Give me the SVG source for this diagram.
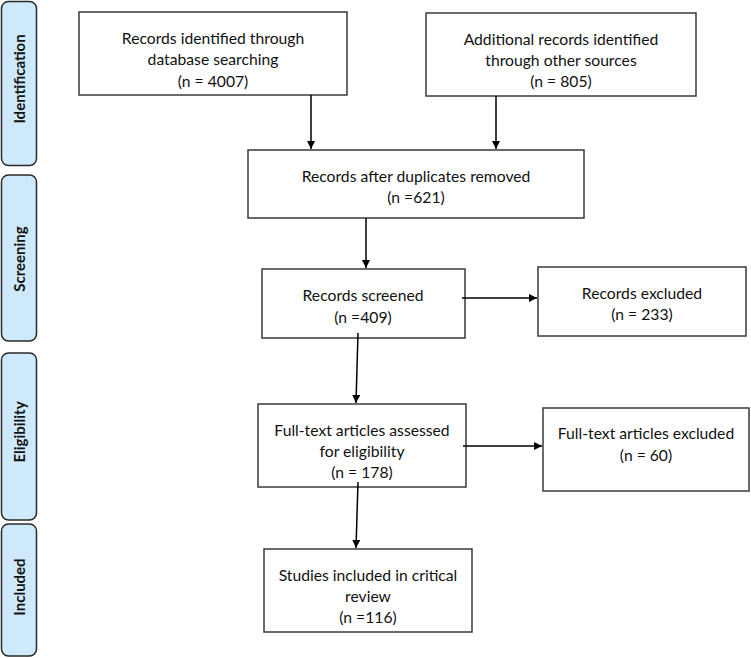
<svg xmlns="http://www.w3.org/2000/svg" width="751" height="658" viewBox="0 0 751 658">
<style>
.tab{fill:#cde9fb;stroke:#2a2a2a;stroke-width:1.5}
.tabt{font-family:Lato,"Open Sans",sans-serif;font-weight:bold;font-size:15px;fill:#111;text-anchor:middle}
.box{fill:#fff;stroke:#3a3a3a;stroke-width:1.5}
.t{font-family:Lato,"Open Sans",sans-serif;font-size:15.7px;fill:#111;text-anchor:middle}
.c{stroke:#000;stroke-width:1.5;fill:none;marker-end:url(#ah)}
</style>
<defs>
<marker id="ah" viewBox="0 0 10 10" refX="10" refY="5" markerWidth="8" markerHeight="8" markerUnits="userSpaceOnUse" orient="auto">
<path d="M0,0 L10,5 L0,10 z" fill="#000"/>
</marker>
</defs>
<rect width="751" height="658" fill="#fff"/>
<g id="tab-identification"><rect class="tab" x="1.5" y="1.5" width="35" height="164" rx="7"/><text class="tabt" transform="translate(25,79) rotate(-90)">Identification</text></g>
<g id="tab-screening"><rect class="tab" x="1.5" y="175" width="35" height="166" rx="7"/><text class="tabt" transform="translate(25,259) rotate(-90)">Screening</text></g>
<g id="tab-eligibility"><rect class="tab" x="1.5" y="353" width="35" height="167" rx="7"/><text class="tabt" transform="translate(25,432) rotate(-90)">Eligibility</text></g>
<g id="tab-included"><rect class="tab" x="1.5" y="524" width="35" height="132" rx="7"/><text class="tabt" transform="translate(25,587) rotate(-90)">Included</text></g>

<g id="n1"><rect class="box" x="79" y="12" width="268" height="83"/>
<text class="t" x="213" y="44">Records identified through</text>
<text class="t" x="213" y="65">database searching</text>
<text class="t" x="213" y="87">(n = 4007)</text></g>
<g id="n2"><rect class="box" x="426" y="13" width="270" height="83"/>
<text class="t" x="561" y="45">Additional records identified</text>
<text class="t" x="561" y="66">through other sources</text>
<text class="t" x="561" y="87">(n = 805)</text></g>
<g id="n3"><rect class="box" x="248" y="150" width="336" height="68"/>
<text class="t" x="416" y="182">Records after duplicates removed</text>
<text class="t" x="416" y="203">(n =621)</text></g>
<g id="n4"><rect class="box" x="262" y="269" width="203" height="69"/>
<text class="t" x="363" y="301">Records screened</text>
<text class="t" x="363" y="323">(n =409)</text></g>
<g id="n5"><rect class="box" x="538" y="267" width="208" height="69"/>
<text class="t" x="642" y="299">Records excluded</text>
<text class="t" x="642" y="320">(n = 233)</text></g>
<g id="n6"><rect class="box" x="258" y="404" width="208" height="83"/>
<text class="t" x="362" y="436">Full-text articles assessed</text>
<text class="t" x="362" y="457">for eligibility</text>
<text class="t" x="362" y="478">(n = 178)</text></g>
<g id="n7"><rect class="box" x="543" y="408" width="206" height="83"/>
<text class="t" x="646" y="439">Full-text articles excluded</text>
<text class="t" x="646" y="461">(n = 60)</text></g>
<g id="n8"><rect class="box" x="264" y="549" width="208" height="83"/>
<text class="t" x="368" y="581">Studies included in critical</text>
<text class="t" x="368" y="602">review</text>
<text class="t" x="368" y="623">(n =116)</text></g>

<g id="connectors">
<path class="c" d="M311,95 V149"/>
<path class="c" d="M496,96 V149"/>
<path class="c" d="M366,218 V268"/>
<path class="c" d="M462,298 H537"/>
<path class="c" d="M358,333 L356,403"/>
<path class="c" d="M463,446 H542"/>
<path class="c" d="M358,482 L356,548"/>
</g>
</svg>
